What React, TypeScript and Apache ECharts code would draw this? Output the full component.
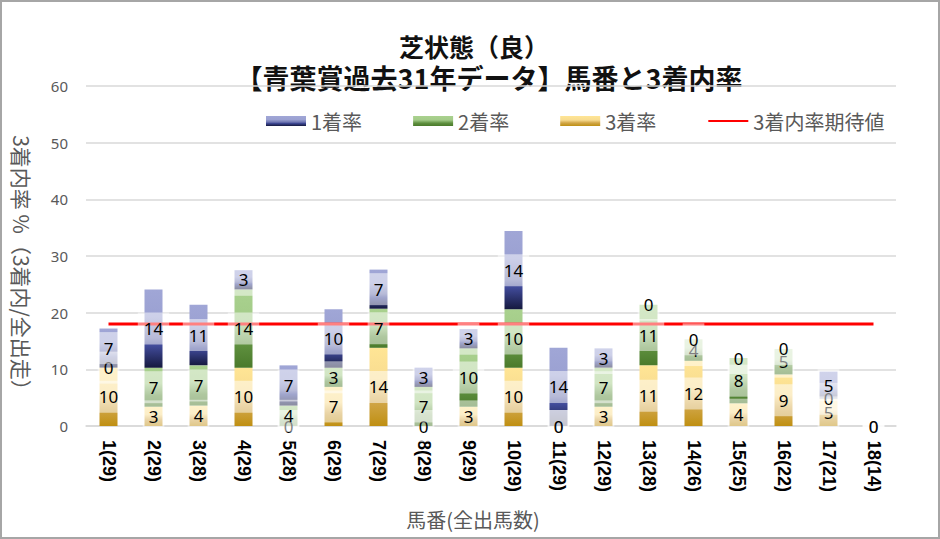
import React, { useEffect, useRef } from 'react';
import * as echarts from 'echarts';

const categories = ['1(29)', '2(29)', '3(28)', '4(29)', '5(28)', '6(29)', '7(29)', '8(29)', '9(29)', '10(29)', '11(29)', '12(29)', '13(28)', '14(26)', '15(25)', '16(22)', '17(21)', '18(14)'];
const rate1 = [6.9, 13.8, 10.7, 3.4, 7.1, 10.3, 6.9, 3.4, 3.4, 13.8, 13.8, 3.4, 0, 0, 0, 0, 4.8, 0];
const rate2 = [0, 6.9, 7.1, 13.8, 3.6, 3.4, 6.9, 6.9, 10.3, 10.3, 0, 6.9, 10.7, 3.8, 8.0, 4.5, 0, 0];
const rate3 = [10.3, 3.4, 3.6, 10.3, 0, 6.9, 13.8, 0, 3.4, 10.3, 0, 3.4, 10.7, 11.5, 4.0, 9.1, 4.8, 0];
const expected = [18, 18, 18, 18, 18, 18, 18, 18, 18, 18, 18, 18, 18, 18, 18, 18, 18, 18];
const seriesNames = ['1着率', '2着率', '3着率', '3着内率期待値'];

const grad = (stops: [number, string][]) =>
  new echarts.graphic.LinearGradient(0, 0, 0, 1, stops.map(([offset, color]) => ({ offset, color })));

const JP = '"Noto Sans CJK JP", "Noto Sans", sans-serif';

export default function App() {
  const ref = useRef<HTMLDivElement>(null);
  useEffect(() => {
    if (!ref.current) return;
    const chart = echarts.init(ref.current, undefined, { renderer: 'svg' });
    const c1 = grad([[0, '#A0A6D6'], [0.35, '#9BA1D2'], [0.62, '#6F76B0'], [0.72, '#414B9A'], [1, '#15193F']]);
    const c2 = grad([[0, '#A9D18E'], [0.4, '#A3CB88'], [0.66, '#6A9A4C'], [0.72, '#5E8F3E'], [1, '#4A7A2B']]);
    const c3 = grad([[0, '#FFE595'], [0.4, '#F8DC90'], [0.66, '#D6AC50'], [0.72, '#CFA443'], [1, '#BF8F12']]);
    const labelCfg = {
      show: true,
      position: 'inside',
      formatter: (p: any) => String(Math.round(p.value)),
      fontSize: 17,
      fontFamily: '"Noto Sans", sans-serif',
      color: '#000',
      backgroundColor: 'rgba(255,255,255,0.5)',
      padding: [8, 6, 7, 6],
      lineHeight: 17,
    };
    const baseBar = (name: string, data: number[], color: any) => ({
      name,
      type: 'bar',
      stack: 'base',
      data,
      barWidth: 18,
      barGap: '-100%',
      z: 1,
      itemStyle: { color },
      emphasis: { disabled: true },
    });
    const labelBar = (name: string, data: number[]) => ({
      name,
      type: 'bar',
      stack: 'lbl',
      data,
      barWidth: 18,
      barGap: '-100%',
      z: 3,
      silent: true,
      itemStyle: { color: 'rgba(0,0,0,0)' },
      label: labelCfg,
      emphasis: { disabled: true },
    });
    chart.setOption({
      animation: false,
      grid: { left: 86, right: 44, top: 86, bottom: 113 },
      legend: {
        data: [
          { name: seriesNames[0], icon: 'rect' },
          { name: seriesNames[1], icon: 'rect' },
          { name: seriesNames[2], icon: 'rect' },
          { name: seriesNames[3], itemStyle: { color: 'rgba(0,0,0,0)', borderColor: 'rgba(0,0,0,0)', borderWidth: 0 } },
        ],
        left: 261,
        top: 106,
        itemWidth: 40,
        itemHeight: 10,
        itemGap: 51,
        selectedMode: false,
        textStyle: { fontSize: 20, color: '#595959', fontFamily: JP, padding: [0, 0, 0, 0] },
      },
      xAxis: {
        type: 'category',
        data: categories,
        axisTick: { show: false },
        axisLine: { lineStyle: { color: '#D9D9D9', width: 1.5 } },
        axisLabel: {
          rotate: -90,
          interval: 0,
          margin: 14,
          fontSize: 18,
          fontWeight: 'bold',
          color: '#000',
          fontFamily: '"Liberation Sans", Arial, sans-serif',
        },
      },
      yAxis: {
        type: 'value',
        min: 0,
        max: 60,
        interval: 10,
        axisLine: { show: false },
        axisTick: { show: false },
        splitLine: { lineStyle: { color: '#D9D9D9', width: 1.5 } },
        axisLabel: { margin: 18, fontSize: 15, color: '#595959', fontFamily: '"Noto Sans", sans-serif' },
      },
      graphic: [
        {
          type: 'rect',
          shape: { x: 1, y: 1, width: 938, height: 537 },
          style: { fill: 'none', stroke: '#A6A6A6', lineWidth: 2 },
          z: -1,
        },
        {
          type: 'text',
          x: 474,
          y: 46,
          style: { text: '芝状態（良）', fontSize: 25, fontWeight: 'bold', fill: '#111', fontFamily: JP, align: 'center', verticalAlign: 'middle' },
        },
        {
          type: 'text',
          x: 489,
          y: 77,
          style: { text: '【青葉賞過去31年データ】馬番と3着内率', fontSize: 27, fontWeight: 'bold', fill: '#111', fontFamily: JP, align: 'center', verticalAlign: 'middle' },
        },
        {
          type: 'text',
          x: 22,
          y: 268,
          rotation: -Math.PI / 2,
          style: { text: '3着内率 %（3着内/全出走）', fontSize: 21, fill: '#595959', fontFamily: JP, align: 'center', verticalAlign: 'middle' },
        },
        {
          type: 'text',
          x: 473,
          y: 519,
          style: { text: '馬番(全出馬数)', fontSize: 20, fill: '#595959', fontFamily: JP, align: 'center', verticalAlign: 'middle' },
        },
      ],
      series: [
        baseBar(seriesNames[2], rate3, c3),
        baseBar(seriesNames[1], rate2, c2),
        baseBar(seriesNames[0], rate1, c1),
        {
          name: seriesNames[3],
          type: 'line',
          data: expected,
          z: 2,
          symbol: 'none',
          silent: true,
          itemStyle: { color: '#FF0000' },
          lineStyle: { color: '#FF0000', width: 3 },
        },
        labelBar('lbl3', rate3),
        labelBar('lbl2', rate2),
        labelBar('lbl1', rate1),
      ],
    });
    return () => chart.dispose();
  }, []);
  return <div ref={ref} style={{ position: 'fixed', left: 0, top: 0, width: 940, height: 539, background: '#fff' }} />;
}
